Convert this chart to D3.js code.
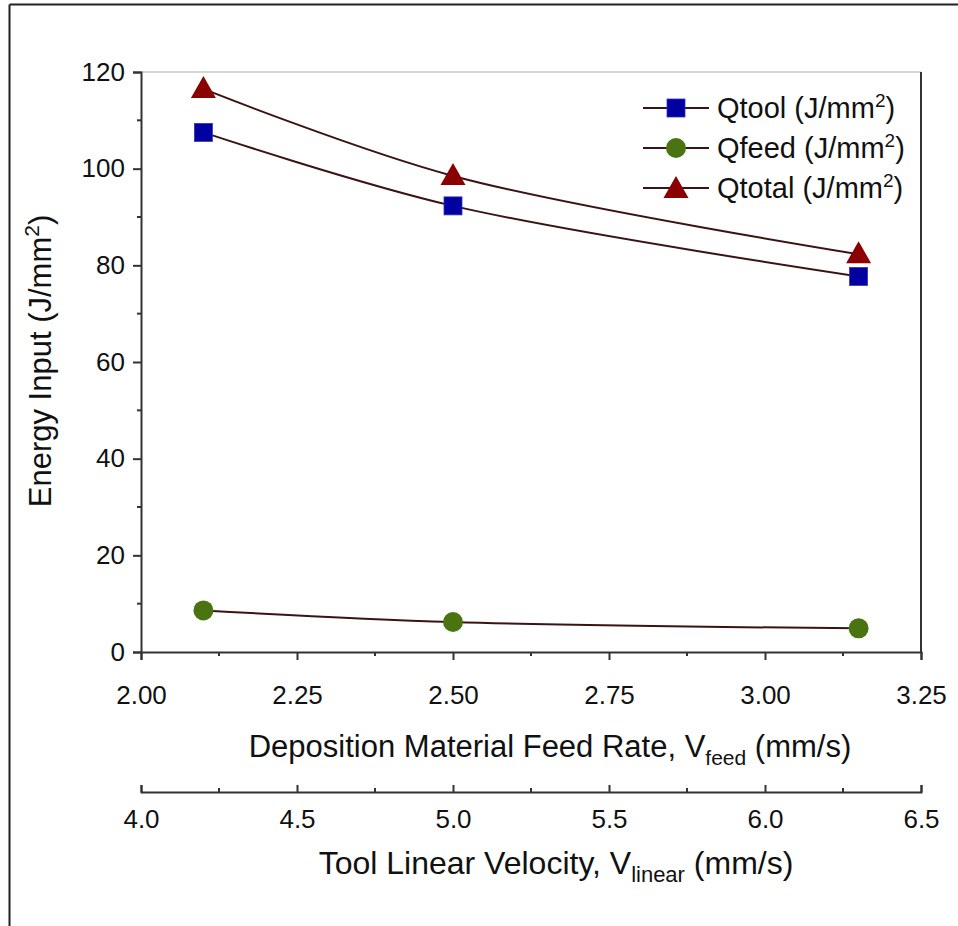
<!DOCTYPE html>
<html>
<head>
<meta charset="utf-8">
<script src="https://cdn.jsdelivr.net/npm/d3@7"></script>
<style>
  body { margin: 0; background: #fff; }
  svg { display: block; font-family: "Liberation Sans", Arial, sans-serif; }
</style>
</head>
<body>
<svg id="chart" width="958" height="926"></svg>
<script>
// feed rate values (x) and energy inputs
const feedRate = [2.1, 2.5, 3.15];
const qTool = [107.5, 92.3, 77.7];
const qFeed = [8.6, 6.2, 4.9];
const qTotal = [116.5, 98.5, 82.3];

const feedTicks = [2.00, 2.25, 2.50, 2.75, 3.00, 3.25];
const linearTicks = [4.0, 4.5, 5.0, 5.5, 6.0, 6.5];
const yTicks = [0, 20, 40, 60, 80, 100, 120];

const series = [
  { name: "Qtool", values: qTool, shape: "square", color: "#0000a0" },
  { name: "Qfeed", values: qFeed, shape: "circle", color: "#4a7412" },
  { name: "Qtotal", values: qTotal, shape: "triangle", color: "#8b0000" }
];

const plotLeft = 141, plotRight = 921, plotTop = 72, plotBottom = 652;
const lineColor = "#3a1414";

const svg = d3.select("#chart");

// outer frame (top and left edges only visible)
svg.append("line").attr("x1", 9.5).attr("x2", 958).attr("y1", 4.5).attr("y2", 4.5)
  .attr("stroke", "#222").attr("stroke-width", 2);
svg.append("line").attr("x1", 9.5).attr("x2", 9.5).attr("y1", 4.5).attr("y2", 926)
  .attr("stroke", "#222").attr("stroke-width", 2);

const x = d3.scaleLinear().domain([2.0, 3.25]).range([plotLeft, plotRight]);
const x2 = d3.scaleLinear().domain([4.0, 6.5]).range([plotLeft, plotRight]);
const y = d3.scaleLinear().domain([0, 120]).range([plotBottom, plotTop]);

// plot frame: light top, dark right
svg.append("line").attr("x1", plotLeft).attr("x2", plotRight).attr("y1", plotTop).attr("y2", plotTop)
  .attr("stroke", "#c8c8c8").attr("stroke-width", 1.5);
svg.append("line").attr("x1", plotRight).attr("x2", plotRight).attr("y1", plotTop).attr("y2", plotBottom)
  .attr("stroke", "#333").attr("stroke-width", 2);

// minor ticks
function minor(g, scale, vals, len, horizontal) {
  vals.forEach(v => {
    const p = scale(v);
    if (horizontal) g.append("line").attr("x1", p).attr("x2", p).attr("y1", 0).attr("y2", len);
    else g.append("line").attr("x1", 0).attr("x2", -len).attr("y1", p).attr("y2", p);
  });
  g.selectAll("line").attr("stroke", "#333").attr("stroke-width", 2);
}

// y axis
const yAxis = svg.append("g").attr("transform", `translate(${plotLeft},0)`)
  .call(d3.axisLeft(y).tickValues(yTicks).tickSize(8).tickPadding(8).tickFormat(d3.format("d")));
minor(svg.append("g").attr("transform", `translate(${plotLeft},0)`), y, [10, 30, 50, 70, 90, 110], 4, false);

// bottom x axis (feed rate)
const xAxis = svg.append("g").attr("transform", `translate(0,${plotBottom})`)
  .call(d3.axisBottom(x).tickValues(feedTicks).tickSize(8).tickPadding(26).tickFormat(d3.format(".2f")));
minor(svg.append("g").attr("transform", `translate(0,${plotBottom})`), x, [2.125, 2.375, 2.625, 2.875, 3.125], 4, true);

// second axis (linear velocity), ticks pointing up
const axis2Y = 792;
const x2Axis = svg.append("g").attr("transform", `translate(0,${axis2Y})`)
  .call(d3.axisBottom(x2).tickValues(linearTicks).tickSize(-7).tickPadding(16).tickFormat(d3.format(".1f")));
x2Axis.selectAll("text").attr("dy", "0.71em").attr("y", 18);
const m2 = svg.append("g").attr("transform", `translate(0,${axis2Y})`);
[4.25, 4.75, 5.25, 5.75, 6.25].forEach(v => {
  m2.append("line").attr("x1", x2(v)).attr("x2", x2(v)).attr("y1", 0).attr("y2", -4);
});
m2.selectAll("line").attr("stroke", "#333").attr("stroke-width", 2);

[yAxis, xAxis, x2Axis].forEach(g => {
  g.select(".domain").attr("stroke", "#333").attr("stroke-width", 2);
  g.selectAll(".tick line").attr("stroke", "#333").attr("stroke-width", 2);
  g.selectAll("text").attr("fill", "#111").attr("font-family", "Liberation Sans, Arial, sans-serif");
});
yAxis.selectAll("text").attr("font-size", 26);
xAxis.selectAll("text").attr("font-size", 26);
x2Axis.selectAll("text").attr("font-size", 26);

// curves
const line = d3.line().x((d, i) => x(feedRate[i])).y(d => y(d)).curve(d3.curveCatmullRom);
series.forEach(s => {
  svg.append("path").datum(s.values).attr("d", line)
    .attr("fill", "none").attr("stroke", lineColor).attr("stroke-width", 2);
});

function marker(g, shape, color, cx, cy) {
  if (shape === "square") {
    g.append("rect").attr("x", cx - 9).attr("y", cy - 9).attr("width", 18).attr("height", 18)
      .attr("fill", color).attr("stroke", "#3333c0").attr("stroke-width", 0.8);
  } else if (shape === "circle") {
    g.append("circle").attr("cx", cx).attr("cy", cy).attr("r", 10).attr("fill", color);
  } else {
    g.append("path").attr("d", `M${cx},${cy - 13}L${cx + 12.5},${cy + 9}L${cx - 12.5},${cy + 9}Z`)
      .attr("fill", color);
  }
}

series.forEach(s => {
  const g = svg.append("g");
  s.values.forEach((v, i) => marker(g, s.shape, s.color, x(feedRate[i]), y(v)));
});

// legend
const legend = svg.append("g");
series.forEach((s, i) => {
  const cy = 108 + i * 40;
  legend.append("line").attr("x1", 643).attr("x2", 709).attr("y1", cy).attr("y2", cy)
    .attr("stroke", lineColor).attr("stroke-width", 2);
  marker(legend, s.shape, s.color, 676, s.shape === "triangle" ? cy + 1 : cy);
  const t = legend.append("text").attr("x", 717).attr("y", cy + 10).attr("font-size", 29).attr("fill", "#111");
  t.append("tspan").text(s.name + " (J/mm");
  t.append("tspan").attr("dy", -11).attr("font-size", 19).text("2");
  t.append("tspan").attr("dy", 11).text(")");
});

// axis titles
const yt = svg.append("text").attr("transform", "translate(51,361) rotate(-90)")
  .attr("text-anchor", "middle").attr("font-size", 31).attr("fill", "#111");
yt.append("tspan").text("Energy Input (J/mm");
yt.append("tspan").attr("dy", -12).attr("font-size", 21).text("2");
yt.append("tspan").attr("dy", 12).text(")");

const xt = svg.append("text").attr("x", 550).attr("y", 757)
  .attr("text-anchor", "middle").attr("font-size", 31).attr("fill", "#111");
xt.append("tspan").text("Deposition Material Feed Rate, V");
xt.append("tspan").attr("dy", 8).attr("font-size", 21).text("feed");
xt.append("tspan").attr("dy", -8).text(" (mm/s)");

const x2t = svg.append("text").attr("x", 556).attr("y", 874)
  .attr("text-anchor", "middle").attr("font-size", 32).attr("fill", "#111");
x2t.append("tspan").text("Tool Linear Velocity, V");
x2t.append("tspan").attr("dy", 8).attr("font-size", 22).text("linear");
x2t.append("tspan").attr("dy", -8).text(" (mm/s)");
</script>
</body>
</html>
